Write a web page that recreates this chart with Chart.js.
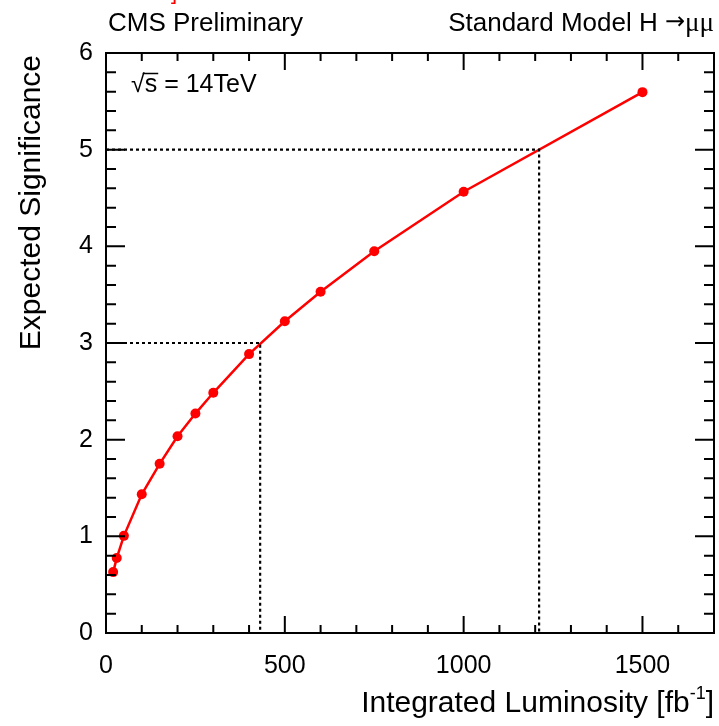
<!DOCTYPE html>
<html>
<head>
<meta charset="utf-8">
<script src="https://cdn.jsdelivr.net/npm/chart.js@4"></script>
<style>
  body { margin: 0; background: #fff; }
  canvas { display: block; }
</style>
</head>
<body>
<canvas id="chart" width="719" height="726"></canvas>
<script>
// Values
const lumi = [20, 30, 50, 100, 150, 200, 250, 300, 400, 500, 600, 750, 1000, 1500];
const significance = [0.63, 0.775, 1.005, 1.435, 1.75, 2.035, 2.27, 2.485, 2.885, 3.225, 3.53, 3.95, 4.565, 5.595];
const xTicks = [0, 500, 1000, 1500];
const yTicks = [0, 1, 2, 3, 4, 5, 6];
// where the curve reaches 3 and 5 sigma
const sigmaLevels = [3, 5];
const sigmaLumi = [431, 1211];

const FONT = '"Liberation Sans", Arial, Helvetica, sans-serif';
const SERIF = '"Liberation Serif", "Times New Roman", serif';

const points = lumi.map((x, i) => ({ x: x, y: significance[i] }));
const guides = sigmaLevels.map((s, i) => ({
  type: 'line',
  data: [{ x: 0, y: s }, { x: sigmaLumi[i], y: s }, { x: sigmaLumi[i], y: 0 }],
  borderColor: '#000',
  borderWidth: 2.2,
  borderDash: [3, 3],
  pointRadius: 0,
  fill: false
}));

// frame, inward ticks (ROOT style) and texts
const decorations = {
  id: 'decorations',
  afterDatasetsDraw(chart) {
    const ctx = chart.ctx;
    const a = chart.chartArea;
    const xs = chart.scales.x;
    const ys = chart.scales.y;
    ctx.save();
    ctx.strokeStyle = '#000';
    ctx.lineWidth = 2;
    ctx.strokeRect(a.left, a.top, a.right - a.left, a.bottom - a.top);

    ctx.beginPath();
    for (let v = 0; v <= xs.max; v += 100) {
      const px = xs.getPixelForValue(v);
      const len = v % 500 === 0 ? 17 : 8;
      ctx.moveTo(px, a.bottom); ctx.lineTo(px, a.bottom - len);
      ctx.moveTo(px, a.top); ctx.lineTo(px, a.top + len);
    }
    for (let k = 0; k <= 30; k++) {
      const py = ys.getPixelForValue(k * 0.2);
      const len = k % 5 === 0 ? 19 : 10;
      ctx.moveTo(a.left, py); ctx.lineTo(a.left + len, py);
      ctx.moveTo(a.right, py); ctx.lineTo(a.right - len, py);
    }
    ctx.stroke();

    ctx.fillStyle = '#000';
    ctx.textBaseline = 'alphabetic';

    // header
    ctx.font = '26px ' + FONT;
    ctx.textAlign = 'left';
    ctx.fillText('CMS Preliminary', 108, 31);
    ctx.textAlign = 'right';
    ctx.font = '27px ' + SERIF;
    const wMu = ctx.measureText('\u03bc\u03bc').width;
    ctx.fillText('\u03bc\u03bc', 714, 31);
    ctx.font = '24px "DejaVu Sans", ' + FONT;
    const wArrow = ctx.measureText('\u2192').width;
    ctx.fillText('\u2192', 714 - wMu, 29);
    ctx.font = '26px ' + FONT;
    ctx.fillText('Standard Model H ', 714 - wMu - wArrow, 31);

    // red fragment at the very top
    ctx.fillStyle = '#ff0000';
    ctx.font = '22px ' + FONT;
    ctx.textAlign = 'left';
    ctx.fillText(']', 171, -1);
    ctx.fillStyle = '#000';

    // sqrt(s) label
    ctx.font = '25px ' + FONT;
    ctx.textAlign = 'left';
    ctx.fillText('\u221A', 131, 92);
    const wRoot = ctx.measureText('\u221A').width;
    const wS = ctx.measureText('s').width;
    ctx.fillText('s = 14TeV', 131 + wRoot, 92);
    ctx.lineWidth = 1.5;
    ctx.beginPath();
    ctx.moveTo(131 + wRoot - 2, 73.5);
    ctx.lineTo(131 + wRoot + wS + 1, 73.5);
    ctx.stroke();

    // y title
    ctx.save();
    ctx.translate(32, 55);
    ctx.rotate(-Math.PI / 2);
    ctx.font = '30px ' + FONT;
    ctx.textAlign = 'right';
    ctx.textBaseline = 'middle';
    ctx.fillText('Expected Significance', 0, 0);
    ctx.restore();

    // x title with superscript
    const base = 'Integrated Luminosity [fb';
    ctx.font = '30px ' + FONT;
    const wBase = ctx.measureText(base).width;
    const wClose = ctx.measureText(']').width;
    ctx.font = '18px ' + FONT;
    const wSup = ctx.measureText('-1').width;
    const right = 714;
    const baseY = 712;
    let x0 = right - wClose - wSup - wBase;
    ctx.textAlign = 'left';
    ctx.font = '30px ' + FONT;
    ctx.fillText(base, x0, baseY);
    ctx.font = '18px ' + FONT;
    ctx.fillText('-1', x0 + wBase, baseY - 13);
    ctx.font = '30px ' + FONT;
    ctx.fillText(']', x0 + wBase + wSup, baseY);
    ctx.restore();
  }
};

new Chart(document.getElementById('chart'), {
  type: 'scatter',
  data: {
    datasets: [
      ...guides,
      {
        type: 'line',
        data: points,
        borderColor: '#ff0000',
        backgroundColor: '#ff0000',
        borderWidth: 2.5,
        pointRadius: 5,
        pointBackgroundColor: '#ff0000',
        pointBorderWidth: 0,
        tension: 0,
        fill: false
      }
    ]
  },
  options: {
    responsive: false,
    animation: false,
    layout: { padding: { left: 0, top: 53, right: 4, bottom: 0 } },
    plugins: { legend: { display: false }, tooltip: { enabled: false } },
    scales: {
      x: {
        type: 'linear',
        min: 0,
        max: 1700,
        grid: { display: false },
        border: { display: false },
        afterBuildTicks: s => { s.ticks = xTicks.map(v => ({ value: v })); },
        afterFit: s => { s.height = 93; },
        ticks: {
          maxRotation: 0,
          padding: 10,
          color: '#000',
          font: { family: FONT, size: 25 },
          callback: v => String(v)
        }
      },
      y: {
        type: 'linear',
        min: 0,
        max: 6,
        grid: { display: false },
        border: { display: false },
        afterBuildTicks: s => { s.ticks = yTicks.map(v => ({ value: v })); },
        afterFit: s => { s.width = 106; },
        ticks: {
          padding: 5,
          color: '#000',
          font: { family: FONT, size: 25 },
          callback: v => String(v)
        }
      }
    }
  },
  plugins: [decorations]
});
</script>
</body>
</html>
